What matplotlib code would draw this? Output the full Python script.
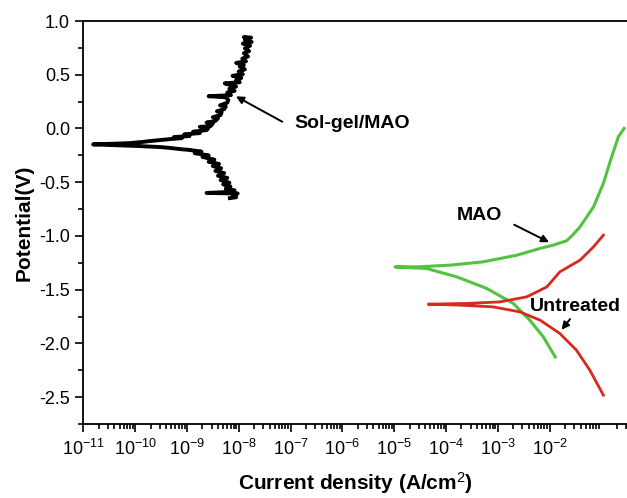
import numpy as np
import matplotlib
matplotlib.use("Agg")
from matplotlib import pyplot as plt
from matplotlib.ticker import LogLocator, NullFormatter

plt.rcParams['font.family'] = ['Liberation Sans', 'DejaVu Sans']
plt.rcParams['mathtext.fontset'] = 'custom'
plt.rcParams['mathtext.rm'] = 'Liberation Sans'
plt.rcParams['mathtext.it'] = 'Liberation Sans:italic'
plt.rcParams['mathtext.bf'] = 'Liberation Sans:bold'
plt.rcParams['axes.unicode_minus'] = False

# log10 of current density (A/cm2) and potential (V)
# Sol-gel/MAO: cathodic end -> Ecorr -> anodic end
solgel_logi = [-8.17, -8.05, -8.12, -8.02, -8.62, -8.15, -8.08, -8.25, -8.16, -8.30,
               -8.18, -8.35, -8.22, -8.40, -8.28, -8.45, -8.34, -8.50, -8.38, -8.58,
               -8.47, -8.70, -8.58, -8.85, -8.72, -8.95, -9.13, -9.35, -9.52, -9.91,
               -10.81,
               -10.30, -10.10, -9.85, -9.71, -9.45, -9.33, -9.10, -9.25, -8.95, -9.05,
               -8.75, -8.88, -8.62, -8.59, -8.75, -8.55, -8.50, -8.62, -8.45, -8.40,
               -8.50, -8.35, -8.33, -8.42, -8.28, -8.25, -8.36, -8.22, -8.20, -8.25,
               -8.58, -8.15, -8.22, -8.08, -8.18, -8.05, -8.20, -8.27, -7.98, -8.05,
               -7.95, -8.12, -7.92, -8.00, -7.88, -7.98, -7.90, -8.05, -7.86, -7.93,
               -7.82, -7.90, -7.80, -7.88, -7.78, -7.92, -7.75, -7.88, -7.76, -7.90,
               -7.80]
solgel_v = [-0.648, -0.640, -0.615, -0.605, -0.600, -0.590, -0.575, -0.560, -0.540, -0.520,
            -0.505, -0.480, -0.460, -0.440, -0.415, -0.395, -0.370, -0.350, -0.330, -0.310,
            -0.290, -0.265, -0.250, -0.230, -0.215, -0.200, -0.192, -0.180, -0.173, -0.164,
            -0.148,
            -0.140, -0.136, -0.125, -0.117, -0.105, -0.099, -0.090, -0.080, -0.071, -0.055,
            -0.043, -0.030, -0.015, 0.000, 0.015, 0.020, 0.045, 0.055, 0.070, 0.095,
            0.105, 0.125, 0.150, 0.160, 0.180, 0.205, 0.215, 0.240, 0.265, 0.290,
            0.300, 0.310, 0.335, 0.350, 0.370, 0.390, 0.410, 0.420, 0.430, 0.450,
            0.470, 0.490, 0.505, 0.530, 0.550, 0.575, 0.590, 0.610, 0.625, 0.650,
            0.670, 0.700, 0.720, 0.745, 0.770, 0.790, 0.805, 0.825, 0.845, 0.850,
            0.835]

# MAO
mao_logi = [-1.89, -2.12, -2.38, -2.70, -3.21, -3.79, -4.37, -4.98,
            -4.56, -3.92, -3.28, -2.63, -2.18, -1.93, -1.67, -1.55, -1.41, -1.15,
            -0.96, -0.80, -0.67, -0.56]
mao_v = [-2.126, -1.939, -1.784, -1.628, -1.489, -1.381, -1.303, -1.288,
         -1.288, -1.272, -1.241, -1.179, -1.116, -1.086, -1.045, -0.990, -0.915, -0.729,
         -0.511, -0.263, -0.077, 0.001]

# Untreated
untr_logi = [-0.96, -1.22, -1.48, -1.80, -2.18, -2.57, -3.09, -3.73, -4.34,
             -3.60, -2.96, -2.44, -2.05, -1.80, -1.41, -1.15, -0.96]
untr_v = [-2.482, -2.250, -2.063, -1.908, -1.784, -1.707, -1.660, -1.644, -1.635,
          -1.628, -1.614, -1.567, -1.474, -1.334, -1.225, -1.101, -0.993]

fig = plt.figure(figsize=(6.27, 4.98), dpi=100)
ax = fig.add_axes([83.3 / 627, 1 - 424 / 498, (627 - 83.3) / 627, (424 - 21) / 498])

ax.plot(10 ** np.array(solgel_logi), solgel_v, color='black', lw=2.8, solid_joinstyle='round')
ax.plot(10 ** np.array(mao_logi), mao_v, color='#52c33e', lw=2.2)
ax.plot(10 ** np.array(untr_logi), untr_v, color='#d62a1e', lw=2.0)

ax.set_xscale('log')
ax.set_xlim(1e-11, 10 ** -0.504)
ax.set_ylim(-2.75, 1.0)
ax.set_xticks([10.0 ** k for k in range(-11, -1)])
ax.xaxis.set_minor_locator(LogLocator(base=10, subs=np.arange(2, 10), numticks=100))
ax.xaxis.set_minor_formatter(NullFormatter())
ax.set_yticks([1.0, 0.5, 0.0, -0.5, -1.0, -1.5, -2.0, -2.5])
ax.set_yticks(np.arange(-2.75, 1.0, 0.25), minor=True)
ax.set_yticklabels(['1.0', '0.5', '0.0', '-0.5', '-1.0', '-1.5', '-2.0', '-2.5'])

ax.spines['right'].set_visible(False)
for s in ['left', 'bottom', 'top']:
    ax.spines[s].set_linewidth(1.3)
ax.tick_params(axis='both', which='major', direction='out', length=6, width=1.2, labelsize=13)
ax.tick_params(axis='both', which='minor', direction='out', length=3.5, width=1.2)
ax.tick_params(axis='x', pad=5)

ax.set_xlabel('Current density (A/cm$^2$)', fontsize=15, fontweight='bold', labelpad=8)
ax.set_ylabel('Potential(V)', fontsize=15, fontweight='bold', labelpad=4)

# annotations
ax.text(10 ** -6.92, 0.05, 'Sol-gel/MAO', fontsize=14, fontweight='bold', va='center', ha='left')
ax.annotate('', xy=(10 ** -8.10, 0.311), xytext=(10 ** -7.11, 0.05),
            arrowprops=dict(arrowstyle='-|>', color='black', lw=1.4, mutation_scale=11))
ax.text(10 ** -3.35, -0.806, 'MAO', fontsize=14, fontweight='bold', va='center', ha='center')
ax.annotate('', xy=(10 ** -1.96, -1.070), xytext=(10 ** -2.73, -0.884),
            arrowprops=dict(arrowstyle='-|>', color='black', lw=1.4, mutation_scale=11))
ax.text(10 ** -1.51, -1.66, 'Untreated', fontsize=14, fontweight='bold', va='center', ha='center')
ax.annotate('', xy=(10 ** -1.80, -1.893), xytext=(10 ** -1.57, -1.753),
            arrowprops=dict(arrowstyle='-|>', color='black', lw=1.4, mutation_scale=11))

plt.savefig('out.png', dpi=100)
